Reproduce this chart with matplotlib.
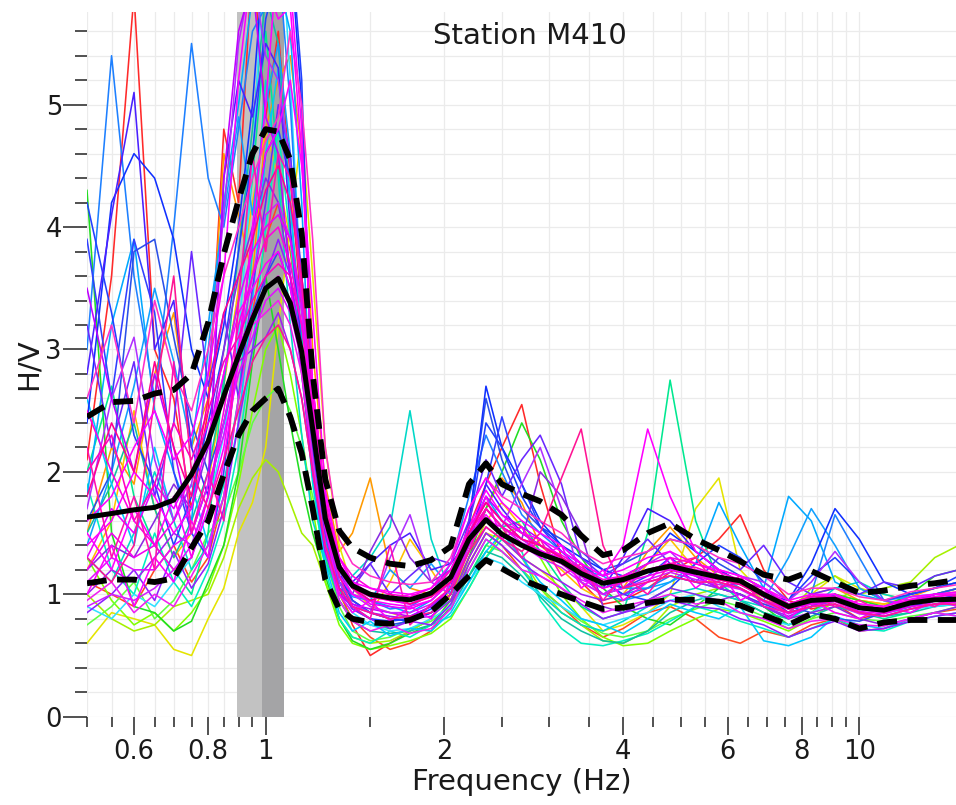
import matplotlib
matplotlib.use("Agg")
import matplotlib.pyplot as plt
from matplotlib.ticker import FixedLocator, NullFormatter

# frequency samples (Hz) shared by all curves
freq = [0.50, 0.55, 0.60, 0.65, 0.70, 0.75, 0.80, 0.85, 0.90, 0.95,
        1.00, 1.05, 1.10, 1.15, 1.20, 1.26, 1.33, 1.40, 1.50, 1.62,
        1.75, 1.90, 2.05, 2.20, 2.35, 2.50, 2.70, 2.90, 3.15, 3.40,
        3.70, 4.00, 4.40, 4.80, 5.30, 5.80, 6.30, 6.90, 7.60, 8.30,
        9.10, 10.0, 11.0, 12.2, 13.4, 14.7]

# individual time-window H/V curves
w01 = [2.1, 3.6, 5.9, 3.0, 2.6, 1.7, 2.5, 4.8, 4.2, 6.2,
       4.9, 5.6, 4.4, 3.3, 2.4, 1.50, 1.05, 0.75, 0.50, 0.60,
       0.70, 0.80, 1.10, 1.55, 1.90, 2.20, 2.55, 1.90, 1.30, 1.10,
       0.92, 0.95, 1.05, 1.18, 1.30, 1.45, 1.65, 1.20, 0.95, 0.88,
       0.92, 0.80, 0.85, 0.95, 1.00, 1.05]
w02 = [1.5, 2.2, 1.9, 2.8, 3.3, 2.2, 2.6, 4.6, 4.1, 3.6,
       4.8, 5.2, 5.4, 4.6, 3.0, 1.90, 1.35, 1.50, 1.95, 1.20,
       1.05, 1.00, 1.10, 1.35, 1.70, 1.95, 1.75, 1.40, 1.25, 1.15,
       1.00, 1.05, 1.35, 1.55, 1.30, 1.15, 1.05, 0.95, 0.90, 1.00,
       1.05, 0.95, 0.92, 0.98, 1.05, 1.10]
w03 = [0.60, 0.85, 0.80, 0.75, 0.55, 0.50, 0.80, 1.05, 1.50, 1.75,
       2.20, 3.20, 4.00, 4.80, 3.60, 2.20, 1.40, 1.05, 0.90, 0.85,
       0.80, 0.85, 1.00, 1.25, 1.50, 1.45, 1.30, 1.20, 1.05, 0.90,
       0.70, 0.75, 0.85, 1.00, 1.70, 1.95, 1.20, 1.00, 0.90, 1.00,
       1.15, 1.05, 1.00, 0.95, 1.00, 1.05]
w04 = [1.00, 0.80, 0.70, 0.75, 0.90, 0.95, 1.00, 1.30, 1.70, 1.95,
       2.10, 2.00, 1.75, 1.50, 1.40, 1.10, 0.80, 0.65, 0.60, 0.62,
       0.70, 0.80, 1.00, 1.30, 1.60, 1.50, 1.30, 1.05, 0.85, 0.75,
       0.62, 0.60, 0.70, 0.90, 1.00, 1.05, 1.10, 0.95, 0.85, 1.05,
       1.15, 1.00, 1.05, 1.10, 1.30, 1.40]
w05 = [4.3, 1.5, 0.90, 0.85, 0.70, 0.78, 1.10, 1.40, 2.00, 2.90,
       3.60, 3.00, 2.40, 1.90, 1.50, 1.15, 0.80, 0.62, 0.55, 0.60,
       0.68, 0.75, 0.95, 1.30, 1.70, 2.00, 2.40, 2.10, 1.60, 1.30,
       1.05, 0.90, 0.80, 0.75, 0.90, 1.05, 1.00, 0.90, 0.75, 0.85,
       1.00, 0.95, 0.90, 1.00, 1.15, 1.20]
w06 = [2.0, 2.7, 1.8, 1.4, 1.2, 1.0, 1.5, 2.8, 3.4, 4.4,
       5.6, 4.5, 3.6, 2.8, 2.0, 1.30, 0.95, 0.80, 0.75, 0.72,
       0.80, 0.85, 0.95, 1.15, 1.40, 1.55, 1.60, 1.35, 1.10, 0.90,
       0.80, 0.85, 1.50, 2.75, 1.60, 1.10, 0.95, 0.85, 0.80, 0.90,
       0.95, 0.85, 0.80, 0.85, 0.95, 1.00]
w07 = [1.3, 1.1, 1.5, 2.0, 1.6, 1.2, 1.4, 1.9, 2.6, 3.8,
       5.2, 4.4, 3.2, 2.3, 1.60, 1.25, 1.00, 1.15, 1.30, 1.55,
       2.50, 1.45, 1.00, 1.20, 1.45, 1.35, 1.20, 1.00, 0.85, 0.75,
       0.70, 0.78, 0.90, 1.00, 1.05, 1.00, 0.95, 0.90, 0.80, 0.90,
       1.05, 1.10, 1.00, 0.95, 0.90, 0.95]
w08 = [1.8, 3.2, 3.9, 2.5, 2.0, 1.6, 3.0, 4.2, 5.0, 5.9,
       6.3, 6.0, 5.6, 4.2, 2.10, 1.45, 1.10, 1.00, 0.95, 0.90,
       0.85, 0.95, 1.10, 1.50, 1.80, 1.60, 1.50, 1.40, 1.30, 1.20,
       1.15, 1.05, 1.05, 1.10, 1.25, 1.75, 1.40, 1.05, 1.80, 1.60,
       1.10, 1.00, 0.95, 1.00, 1.05, 1.10]
w09 = [3.0, 5.4, 3.6, 2.6, 4.0, 5.5, 4.4, 4.0, 4.8, 5.6,
       5.8, 6.2, 5.0, 3.4, 2.30, 1.55, 1.20, 1.05, 0.95, 0.88,
       0.90, 1.00, 1.25, 1.80, 2.30, 2.00, 1.65, 1.50, 1.35, 1.25,
       1.10, 1.00, 1.05, 1.15, 1.10, 1.05, 1.00, 0.90, 0.85, 1.00,
       1.65, 1.30, 0.95, 0.90, 0.95, 1.00]
w10 = [2.4, 4.2, 4.6, 4.4, 3.9, 3.0, 2.6, 3.2, 4.0, 5.0,
       6.4, 6.6, 6.3, 5.0, 2.50, 1.60, 1.15, 0.95, 0.85, 0.80,
       0.78, 0.85, 1.00, 1.55, 2.70, 2.20, 1.90, 1.60, 1.40, 1.30,
       1.20, 1.15, 1.25, 1.50, 1.35, 1.20, 1.10, 1.00, 0.95, 1.25,
       1.70, 1.45, 1.10, 1.00, 1.05, 1.10]
w11 = [1.6, 2.0, 3.8, 3.9, 3.1, 2.4, 2.0, 2.4, 3.0, 3.3,
       3.6, 3.8, 3.5, 3.0, 2.20, 1.50, 1.05, 0.88, 0.80, 0.75,
       0.78, 0.85, 1.05, 1.60, 2.60, 2.10, 1.70, 1.55, 1.45, 1.35,
       1.20, 1.25, 1.35, 1.45, 1.40, 1.25, 1.15, 1.05, 0.90, 0.85,
       0.80, 0.78, 0.85, 0.95, 1.00, 1.05]
w12 = [2.8, 4.1, 5.1, 3.0, 3.4, 2.2, 1.8, 4.4, 5.2, 4.9,
       5.5, 5.3, 4.0, 3.0, 2.20, 1.50, 1.15, 1.10, 1.25, 1.40,
       1.50, 1.20, 1.25, 1.45, 1.90, 1.70, 1.50, 1.40, 1.30, 1.15,
       1.05, 1.30, 1.70, 1.60, 1.35, 1.20, 1.10, 1.00, 0.85, 0.90,
       1.00, 0.90, 0.85, 0.90, 0.95, 1.00]
w13 = [1.2, 1.4, 1.3, 1.6, 1.9, 1.7, 2.2, 3.0, 3.6, 4.0,
       4.4, 4.2, 3.6, 3.0, 2.10, 1.40, 1.05, 1.00, 1.35, 1.65,
       1.30, 1.10, 1.20, 1.50, 1.75, 1.60, 1.45, 2.00, 1.80, 1.50,
       0.90, 0.85, 0.95, 1.05, 1.00, 0.95, 1.00, 0.90, 0.80, 0.85,
       0.90, 0.80, 0.75, 0.80, 0.85, 0.90]
w14 = [1.0, 1.2, 1.1, 1.3, 1.5, 1.4, 1.8, 2.4, 2.9, 3.0,
       3.1, 3.3, 3.0, 2.60, 2.00, 1.35, 1.00, 0.90, 0.85, 0.82,
       0.80, 0.82, 0.95, 1.30, 1.55, 1.45, 1.30, 1.20, 1.10, 1.00,
       0.95, 1.00, 1.10, 1.15, 1.10, 1.05, 1.00, 0.90, 0.82, 0.90,
       0.95, 0.85, 0.82, 0.88, 0.92, 0.95]
w15 = [3.5, 2.6, 2.0, 2.8, 2.2, 1.5, 1.9, 4.4, 5.6, 6.0,
       4.9, 4.6, 3.6, 2.80, 2.00, 1.35, 1.00, 0.92, 0.88, 0.85,
       0.82, 0.90, 1.05, 1.45, 1.80, 1.65, 1.55, 1.45, 1.30, 1.15,
       1.00, 1.05, 1.20, 1.25, 1.15, 1.05, 1.10, 1.05, 0.92, 0.98,
       1.00, 0.90, 0.88, 0.92, 1.00, 1.00]
w16 = [1.4, 1.6, 2.0, 1.8, 1.5, 1.7, 2.3, 2.8, 3.3, 3.5,
       3.7, 3.8, 3.5, 3.0, 2.30, 1.55, 1.15, 1.00, 0.95, 0.92,
       0.90, 0.95, 1.10, 1.45, 1.65, 1.50, 1.40, 1.35, 1.30, 1.20,
       1.10, 1.15, 1.20, 1.25, 1.20, 1.15, 1.10, 1.00, 0.90, 0.95,
       0.95, 0.88, 0.86, 0.92, 0.95, 0.95]
w17 = [1.2, 1.5, 1.3, 1.4, 1.6, 2.0, 2.4, 2.6, 3.0, 3.3,
       3.5, 3.6, 3.4, 3.0, 2.40, 1.65, 1.25, 1.10, 1.00, 0.95,
       0.92, 0.98, 1.10, 1.40, 1.60, 1.55, 1.45, 1.35, 1.25, 1.15,
       1.05, 1.10, 1.15, 1.20, 1.15, 1.10, 1.05, 0.95, 0.88, 0.92,
       0.94, 0.86, 0.84, 0.90, 0.92, 0.94]
w18 = [2.0, 2.3, 1.6, 1.9, 2.4, 2.1, 2.5, 2.9, 3.1, 3.4,
       3.6, 3.7, 3.6, 3.2, 2.50, 1.70, 1.25, 1.05, 0.98, 0.95,
       0.95, 1.00, 1.20, 1.50, 1.70, 1.55, 1.45, 1.40, 1.30, 1.20,
       1.10, 1.10, 1.20, 1.25, 1.22, 1.15, 1.10, 1.00, 0.92, 0.98,
       0.98, 0.90, 0.88, 0.94, 0.96, 0.98]
w19 = [1.3, 1.1, 1.4, 2.6, 3.6, 2.0, 1.7, 2.1, 2.5, 2.9,
       3.1, 3.2, 3.0, 2.60, 2.00, 1.40, 1.05, 0.90, 0.85, 0.80,
       0.82, 0.85, 1.00, 1.35, 1.55, 1.45, 1.35, 1.50, 1.95, 2.35,
       1.40, 1.05, 1.10, 1.15, 1.10, 1.10, 1.05, 0.95, 0.85, 0.90,
       0.92, 0.85, 0.82, 0.88, 0.92, 0.92]
w20 = [1.1, 1.3, 1.2, 1.2, 1.4, 1.5, 1.9, 2.3, 2.8, 3.1,
       3.4, 3.5, 3.3, 2.90, 2.30, 1.60, 1.20, 1.05, 0.98, 0.95,
       0.92, 1.00, 1.15, 1.45, 1.60, 1.50, 1.40, 1.32, 1.25, 1.12,
       1.05, 1.10, 1.20, 1.20, 1.15, 1.12, 1.08, 0.98, 0.88, 0.92,
       0.95, 0.88, 0.85, 0.92, 0.95, 0.96]
w21 = [2.5, 2.0, 1.6, 1.4, 1.2, 1.3, 1.8, 2.5, 3.2, 3.6,
       3.9, 4.0, 3.7, 3.2, 2.50, 1.70, 1.30, 1.15, 1.05, 1.00,
       0.98, 1.05, 1.20, 1.55, 1.75, 1.60, 1.50, 1.40, 1.32, 1.22,
       1.12, 1.15, 1.25, 1.30, 1.25, 1.18, 1.12, 1.02, 0.92, 0.96,
       0.98, 0.90, 0.88, 0.95, 0.98, 1.00]
w22 = [0.9, 0.8, 1.0, 0.9, 1.1, 1.3, 1.7, 2.3, 3.1, 4.5,
       6.5, 6.8, 5.2, 3.4, 2.20, 1.40, 1.00, 0.85, 0.75, 0.70,
       0.72, 0.80, 0.90, 1.10, 1.30, 1.25, 1.10, 1.00, 0.90, 0.80,
       0.75, 0.80, 0.85, 0.95, 1.00, 0.90, 0.85, 0.80, 0.75, 0.85,
       0.95, 0.90, 0.85, 0.88, 0.90, 0.92]
w23 = [0.75, 0.90, 1.10, 0.80, 0.95, 1.20, 1.50, 1.65, 2.00, 2.40,
       2.60, 2.70, 2.50, 2.20, 1.80, 1.30, 0.90, 0.70, 0.62, 0.65,
       0.72, 0.78, 0.90, 1.15, 1.40, 1.35, 1.20, 1.05, 0.90, 0.78,
       0.68, 0.65, 0.70, 0.80, 0.88, 0.95, 0.90, 0.82, 0.72, 0.80,
       0.85, 0.80, 0.78, 0.82, 0.85, 0.90]
w24 = [3.9, 2.6, 3.9, 3.3, 2.0, 1.5, 1.3, 2.0, 3.0, 3.9,
       4.6, 4.8, 4.4, 3.6, 2.60, 1.70, 1.20, 0.95, 0.85, 0.80,
       0.82, 0.90, 1.05, 1.40, 1.90, 2.45, 1.90, 1.55, 1.35, 1.20,
       1.10, 1.05, 1.15, 1.30, 1.15, 1.05, 1.00, 0.92, 0.85, 0.90,
       0.95, 0.88, 0.85, 0.90, 0.95, 0.98]
w25 = [1.6, 1.8, 2.2, 2.5, 2.1, 2.3, 2.8, 3.6, 5.2, 6.2,
       6.0, 5.7, 5.8, 4.6, 2.70, 1.80, 1.30, 1.10, 1.05, 1.02,
       1.00, 1.05, 1.25, 1.70, 1.95, 1.75, 1.60, 1.50, 1.40, 1.25,
       1.15, 1.40, 2.35, 1.80, 1.35, 1.20, 1.15, 1.05, 0.95, 1.00,
       1.00, 0.92, 0.90, 0.98, 1.00, 1.02]
w26 = [1.1, 1.0, 0.9, 1.2, 1.4, 1.1, 1.3, 1.8, 2.6, 3.3,
       3.9, 4.2, 3.8, 3.1, 2.20, 1.45, 1.00, 0.80, 0.65, 0.55,
       0.60, 0.70, 0.90, 1.25, 1.50, 1.40, 1.20, 1.05, 0.90, 0.75,
       0.65, 0.72, 0.85, 0.90, 0.80, 0.65, 0.60, 0.70, 0.65, 0.75,
       0.80, 0.70, 0.72, 0.80, 0.85, 0.88]
w27 = [1.5, 1.9, 2.4, 1.7, 1.3, 1.6, 2.0, 2.7, 3.8, 4.8,
       5.9, 5.5, 4.2, 3.1, 2.10, 1.35, 0.95, 0.78, 0.70, 0.68,
       0.70, 0.75, 0.88, 1.15, 1.35, 1.30, 1.15, 0.98, 0.80, 0.70,
       0.62, 0.60, 0.70, 0.85, 0.95, 1.00, 0.95, 0.85, 0.75, 0.82,
       0.90, 0.85, 0.82, 0.85, 0.90, 0.92]
w28 = [0.9, 1.0, 0.95, 1.05, 1.2, 1.4, 1.8, 2.4, 3.0, 3.6,
       4.1, 4.2, 3.9, 3.3, 2.50, 1.65, 1.20, 1.00, 0.90, 0.85,
       0.85, 0.92, 1.05, 1.40, 1.60, 1.50, 1.40, 1.30, 1.22, 1.10,
       1.00, 1.05, 1.12, 1.18, 1.12, 1.08, 1.04, 0.94, 0.84, 0.90,
       0.92, 0.84, 0.82, 0.88, 0.92, 0.94]
w29 = [1.0, 1.4, 0.9, 1.3, 1.1, 1.6, 1.3, 2.1, 2.9, 4.0,
       5.0, 6.3, 6.0, 4.8, 2.6, 1.55, 1.00, 0.85, 0.95, 0.78,
       0.90, 0.80, 1.10, 1.50, 1.80, 1.45, 1.55, 1.30, 1.40, 1.05,
       1.20, 0.95, 1.10, 1.30, 1.05, 1.20, 0.95, 1.05, 0.80, 0.95,
       0.85, 0.80, 0.90, 0.85, 0.95, 0.90]
w30 = [2.2, 1.3, 1.8, 1.2, 2.9, 1.5, 2.0, 1.6, 3.4, 4.6,
       3.8, 4.6, 4.4, 3.5, 2.7, 1.75, 1.15, 0.90, 0.80, 1.40,
       0.75, 0.92, 1.05, 1.35, 1.70, 1.55, 1.30, 1.45, 1.15, 1.25,
       0.95, 1.15, 1.00, 1.25, 1.30, 1.05, 1.15, 0.90, 0.85, 1.00,
       0.90, 0.95, 0.85, 0.95, 0.90, 1.00]
w31 = [3.2, 2.2, 2.9, 1.8, 2.4, 3.8, 2.7, 3.3, 2.6, 3.5,
       4.2, 5.0, 4.6, 3.6, 2.5, 1.60, 1.20, 1.05, 1.25, 1.00,
       1.15, 1.30, 1.25, 1.60, 2.10, 1.80, 2.10, 2.30, 1.90, 1.30,
       1.15, 1.25, 1.45, 1.25, 1.10, 1.30, 1.20, 1.40, 1.10, 1.00,
       1.05, 1.00, 1.10, 1.05, 1.15, 1.20]
w32 = [2.6, 1.9, 1.4, 2.2, 1.6, 1.9, 1.4, 1.8, 2.4, 3.4,
       4.6, 5.3, 4.2, 3.0, 1.95, 1.25, 0.85, 0.70, 0.78, 0.66,
       0.72, 0.70, 0.85, 1.10, 1.35, 1.50, 1.30, 1.10, 0.95, 0.80,
       0.75, 0.68, 0.80, 0.92, 0.85, 0.80, 0.90, 0.62, 0.58, 0.65,
       0.82, 0.75, 0.72, 0.80, 0.85, 0.82]
w33 = [1.9, 1.2, 1.0, 1.5, 1.1, 0.9, 1.2, 1.6, 2.2, 3.0,
       4.0, 4.8, 3.9, 2.9, 1.90, 1.20, 0.80, 0.65, 0.60, 0.70,
       0.65, 0.75, 0.82, 1.05, 1.30, 1.45, 1.35, 0.95, 0.72, 0.60,
       0.58, 0.62, 0.68, 0.78, 0.90, 0.85, 0.78, 0.72, 0.65, 0.72,
       0.80, 0.72, 0.70, 0.78, 0.82, 0.85]
w34 = [0.95, 1.10, 0.85, 1.00, 0.90, 1.15, 1.40, 1.80, 2.60, 3.20,
       3.30, 3.40, 3.20, 2.80, 2.10, 1.40, 0.95, 0.78, 0.70, 0.75,
       0.68, 0.72, 0.88, 1.20, 1.45, 1.35, 1.20, 1.15, 1.05, 0.95,
       0.85, 0.90, 0.95, 1.00, 0.92, 0.95, 0.85, 0.80, 0.72, 0.78,
       0.80, 0.75, 0.74, 0.80, 0.85, 0.82]
w35 = [2.6, 3.2, 2.4, 3.4, 2.8, 2.5, 3.0, 3.6, 4.0, 4.4,
       4.7, 4.9, 5.6, 5.0, 3.9, 2.20, 1.45, 1.25, 1.15, 1.10,
       1.08, 1.10, 1.30, 1.70, 1.95, 1.80, 1.70, 1.60, 1.50, 1.35,
       1.25, 1.30, 1.35, 1.45, 1.40, 1.30, 1.25, 1.15, 1.00, 1.05,
       1.05, 0.98, 0.95, 1.02, 1.05, 1.08]
w36 = [1.7, 2.6, 3.1, 2.1, 1.6, 1.9, 2.8, 4.1, 5.5, 6.1,
       5.4, 5.2, 4.5, 3.4, 2.4, 1.55, 1.10, 0.92, 0.85, 1.30,
       1.65, 1.10, 1.00, 1.40, 1.70, 1.55, 1.90, 2.20, 1.70, 1.10,
       1.00, 1.10, 1.25, 1.35, 1.15, 1.05, 1.15, 1.10, 0.95, 1.10,
       1.35, 1.10, 0.95, 0.92, 0.98, 1.00]
w37 = [4.2, 3.3, 2.3, 1.9, 1.4, 1.8, 2.4, 3.0, 3.8, 4.6,
       5.7, 6.1, 6.4, 5.2, 2.4, 1.55, 1.10, 0.90, 0.80, 0.78,
       0.80, 0.88, 1.05, 1.55, 2.40, 2.20, 1.80, 1.55, 1.40, 1.25,
       1.10, 1.00, 0.95, 1.05, 1.25, 1.40, 1.30, 1.10, 0.95, 1.15,
       1.30, 1.10, 0.95, 1.00, 1.05, 1.15]
w38 = [1.2, 1.6, 2.5, 1.7, 1.3, 1.5, 1.9, 2.7, 3.5, 4.2,
       4.8, 4.4, 3.9, 3.0, 2.2, 1.40, 1.05, 0.95, 0.85, 1.10,
       1.45, 1.20, 0.95, 1.30, 1.60, 1.75, 1.55, 1.35, 1.20, 1.05,
       0.95, 1.00, 1.25, 1.45, 1.20, 1.05, 1.00, 0.92, 0.90, 0.95,
       1.00, 0.95, 0.92, 0.95, 1.00, 1.02]
w39 = [1.5, 1.2, 1.7, 1.4, 1.8, 1.3, 1.7, 2.2, 3.0, 3.9,
       4.6, 4.8, 5.2, 4.5, 3.3, 1.85, 1.30, 1.10, 1.00, 0.95,
       1.00, 0.98, 1.15, 1.55, 1.85, 1.65, 1.50, 1.45, 1.35, 1.25,
       1.15, 1.20, 1.30, 1.35, 1.25, 1.20, 1.15, 1.05, 0.92, 0.98,
       1.00, 0.92, 0.90, 0.96, 1.00, 1.00]
w40 = [0.85, 1.00, 1.20, 0.95, 1.35, 1.05, 1.25, 1.70, 2.40, 3.00,
       3.60, 3.90, 3.60, 3.00, 2.30, 1.50, 1.05, 0.88, 0.80, 0.72,
       0.78, 0.75, 0.92, 1.25, 1.50, 1.40, 1.25, 1.15, 1.05, 0.92,
       0.80, 0.85, 0.90, 0.95, 0.90, 0.88, 0.80, 0.75, 0.65, 0.72,
       0.78, 0.70, 0.72, 0.78, 0.82, 0.85]
w41 = [1.8, 2.4, 2.0, 2.9, 2.2, 1.8, 2.6, 3.3, 3.6, 3.9,
       4.3, 4.5, 4.2, 3.6, 2.7, 1.75, 1.25, 1.05, 0.95, 1.00,
       0.92, 0.98, 1.10, 1.50, 1.75, 1.60, 1.45, 1.40, 1.30, 1.18,
       1.08, 1.12, 1.18, 1.25, 1.18, 1.12, 1.08, 0.98, 0.88, 0.95,
       0.95, 0.88, 0.86, 0.92, 0.95, 0.96]
w42 = [1.4, 2.0, 2.7, 3.5, 2.9, 2.2, 3.2, 4.1, 4.9, 4.1,
       5.0, 5.5, 4.6, 3.5, 2.40, 1.60, 1.15, 0.98, 0.95, 1.20,
       1.05, 1.25, 1.05, 1.35, 1.70, 1.55, 1.45, 1.35, 1.25, 1.15,
       1.00, 0.95, 1.00, 1.10, 1.20, 1.15, 1.05, 0.95, 1.30, 1.70,
       1.40, 1.05, 0.95, 0.98, 1.00, 1.05]
w43 = [1.3, 0.95, 0.75, 0.85, 0.70, 0.85, 1.05, 1.40, 1.90, 2.50,
       3.00, 3.20, 2.80, 2.30, 1.70, 1.10, 0.75, 0.60, 0.55, 0.58,
       0.62, 0.68, 0.80, 1.05, 1.30, 1.50, 1.55, 1.30, 1.00, 0.80,
       0.65, 0.58, 0.60, 0.70, 0.80, 0.88, 0.85, 0.78, 0.70, 0.80,
       0.95, 1.05, 0.95, 0.90, 0.95, 1.00]
w44 = [1.3, 1.7, 1.5, 1.9, 1.7, 2.0, 2.2, 2.8, 3.4, 3.8,
       4.0, 4.1, 3.9, 3.4, 2.6, 1.75, 1.25, 1.05, 0.92, 0.90,
       0.88, 0.95, 1.10, 1.45, 1.70, 1.55, 1.42, 1.36, 1.28, 1.18,
       1.08, 1.12, 1.20, 1.22, 1.18, 1.12, 1.08, 0.98, 0.88, 0.93,
       0.96, 0.88, 0.86, 0.93, 0.96, 0.96]

# drawing order runs through the hue wheel, magenta windows last (on top)
windows = [w01, w26, w02, w38, w03, w04, w43, w23, w05, w06, w33,
           w27, w07, w22, w32, w08, w42, w09, w11, w10, w24, w37,
           w12, w31, w13, w40, w14, w36, w15, w28, w20, w44, w16,
           w29, w17, w34, w39, w18, w35, w21, w19, w41, w30, w25]
win_colors = ["#ff2a2a", "#ff4a20", "#ff9a00", "#ffc000", "#e4e400", "#a6f000",
              "#80ff00", "#60ff40", "#22dd22", "#00e890", "#00f0c0", "#10c0a0",
              "#00d8c8", "#30e0ff", "#00c8ff", "#00a8ff", "#10a0ff", "#1e80ff",
              "#2a50e8", "#1030ff", "#3040ff", "#2040ff", "#4a20ff", "#6a28ff",
              "#8a2be2", "#9020ff", "#a020f0", "#b030ff", "#c000ff", "#d020ff",
              "#e010ff", "#e800ff", "#ff00ff", "#ff00ff", "#f000f0", "#f020f0",
              "#ff00ff", "#ff00c0", "#ff30c8", "#ff00e0", "#ff1493", "#ff0090",
              "#ff10b0", "#ff00ff"]

# average H/V and +/- one standard deviation
hv_mean = [1.63, 1.66, 1.69, 1.71, 1.77, 1.98, 2.25, 2.62, 2.95, 3.25,
           3.50, 3.58, 3.38, 2.98, 2.35, 1.62, 1.22, 1.07, 1.00, 0.97,
           0.955, 1.01, 1.14, 1.45, 1.61, 1.49, 1.40, 1.33, 1.27, 1.17,
           1.09, 1.12, 1.19, 1.23, 1.18, 1.14, 1.11, 1.00, 0.90, 0.95,
           0.96, 0.89, 0.87, 0.93, 0.955, 0.96]
hv_upper = [2.45, 2.57, 2.58, 2.64, 2.67, 2.80, 3.22, 3.78, 4.22, 4.60,
            4.80, 4.78, 4.55, 3.95, 2.80, 1.94, 1.52, 1.38, 1.30, 1.25,
            1.23, 1.28, 1.39, 1.90, 2.07, 1.90, 1.82, 1.76, 1.65, 1.48,
            1.32, 1.36, 1.50, 1.58, 1.45, 1.36, 1.27, 1.16, 1.12, 1.19,
            1.10, 1.01, 1.03, 1.07, 1.09, 1.12]
hv_lower = [1.09, 1.12, 1.12, 1.10, 1.13, 1.38, 1.60, 1.98, 2.30, 2.50,
            2.60, 2.68, 2.45, 2.15, 1.70, 1.12, 0.88, 0.80, 0.77, 0.76,
            0.79, 0.86, 1.00, 1.15, 1.28, 1.21, 1.12, 1.06, 1.00, 0.94,
            0.88, 0.89, 0.93, 0.955, 0.955, 0.94, 0.91, 0.83, 0.75, 0.84,
            0.80, 0.72, 0.77, 0.79, 0.79, 0.79]

# peak frequency and its standard deviation (f0/s .. f0 .. f0*s)
f0_lo, f0, f0_hi = 0.894, 0.985, 1.072

fig = plt.figure(figsize=(9.56, 8.05), dpi=100)
ax = fig.add_axes([0.091, 0.1097, 0.909, 0.8758])
ax.set_xscale("log")

# peak frequency bands
ax.axvspan(f0_lo, f0, color="#c2c2c2", lw=0, zorder=1)
ax.axvspan(f0, f0_hi, color="#a4a4a6", lw=0, zorder=1)

for vals, c in zip(windows, win_colors):
    ax.plot(freq, vals, color=c, lw=1.15, zorder=2)

ax.plot(freq, hv_mean, color="black", lw=3.6, zorder=4)
ax.plot(freq, hv_upper, color="black", lw=4.2, dashes=(3.4, 1.8), zorder=4)
ax.plot(freq, hv_lower, color="black", lw=4.2, dashes=(3.4, 1.8), zorder=4)

ax.set_xlim(0.5, 14.55)
ax.set_ylim(0, 5.76)

xmajor = [0.6, 0.8, 1, 2, 4, 6, 8, 10]
xminor = [0.5, 0.55, 0.65, 0.7, 0.75, 0.85, 0.9, 0.95, 1.5, 2.5, 3, 3.5,
          4.5, 5, 5.5, 6.5, 7, 7.5, 8.5, 9, 9.5]
ax.xaxis.set_major_locator(FixedLocator(xmajor))
ax.xaxis.set_minor_locator(FixedLocator(xminor))
ax.set_xticklabels(["0.6", "0.8", "1", "2", "4", "6", "8", "10"])
ax.xaxis.set_minor_formatter(NullFormatter())
ax.yaxis.set_major_locator(FixedLocator([0, 1, 2, 3, 4, 5]))
ax.yaxis.set_minor_locator(FixedLocator([0.2 * i for i in range(29)]))
ax.set_yticklabels(["0", "1", "2", "3", "4", "5"])

ax.grid(True, which="both", color="#ebebeb", lw=0.9, zorder=0)
ax.set_axisbelow(True)
for s in ax.spines.values():
    s.set_visible(False)

ax.tick_params(axis="x", which="major", length=13, width=1.1, color="#222222",
               labelsize=18.5, pad=3, labelcolor="#1a1a1a")
ax.tick_params(axis="x", which="minor", length=7, width=1.1, color="#222222")
ax.tick_params(axis="y", which="major", length=17, width=1.1, color="#222222",
               labelsize=18.5, pad=1, labelcolor="#1a1a1a")
ax.tick_params(axis="y", which="minor", length=8.5, width=1.1, color="#222222")

ax.set_xlabel("Frequency (Hz)", fontsize=21, color="#1a1a1a", labelpad=2)
ax.set_ylabel("H/V", fontsize=21, color="#1a1a1a", labelpad=2)
ax.text(0.51, 0.966, "Station M410", transform=ax.transAxes, ha="center",
        va="center", fontsize=21, color="#1a1a1a", zorder=6)

fig.savefig("out.png", dpi=100)
